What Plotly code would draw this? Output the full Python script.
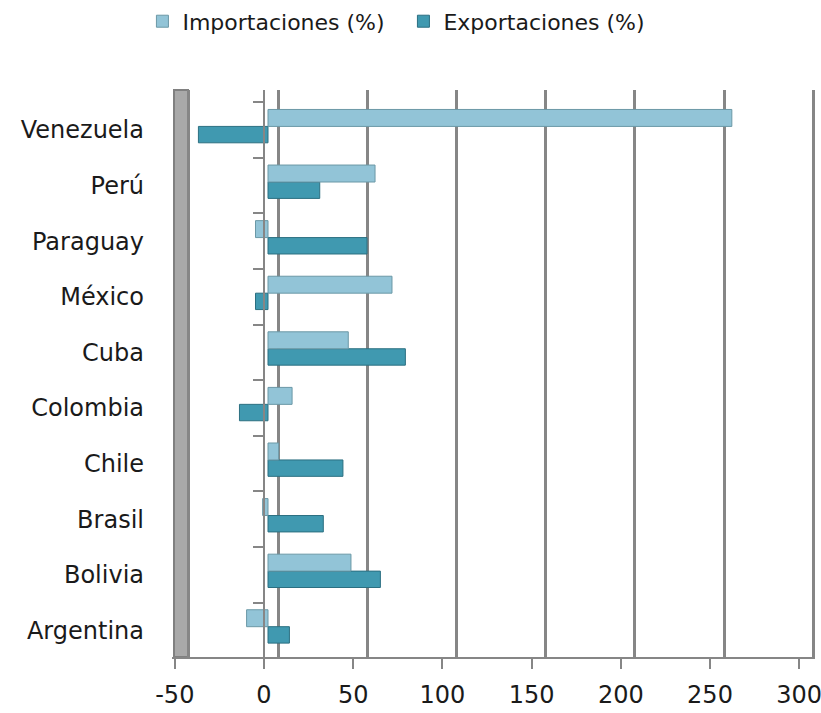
import plotly.graph_objects as go

countries = ["Argentina", "Bolivia", "Brasil", "Chile", "Colombia",
             "Cuba", "México", "Paraguay", "Perú", "Venezuela"]
importaciones = [-12, 46.5, -3, 6, 13.5, 45, 69.5, -7, 60, 260]
exportaciones = [12, 63, 31, 42, -16, 77, -7, 55.5, 29, -39]
x_ticks = [-50, 0, 50, 100, 150, 200, 250, 300]
x_ticktext = [str(v) for v in x_ticks]

FONT = "DejaVu Sans"
GRID = "#868686"

fig = go.Figure()
fig.add_trace(go.Bar(
    y=countries, x=exportaciones, orientation="h", name="Exportaciones (%)",
    marker=dict(color="#4099b0", line=dict(color="#2b6f81", width=1)),
    offset=-0.23, width=0.295,
    legendrank=2, xaxis="x", yaxis="y"))
fig.add_trace(go.Bar(
    y=countries, x=importaciones, orientation="h", name="Importaciones (%)",
    marker=dict(color="#92c4d7", line=dict(color="#6b98a6", width=1)),
    offset=0.065, width=0.305,
    legendrank=1, xaxis="x", yaxis="y"))
# invisible helpers so the overlay axes get drawn
fig.add_trace(go.Scatter(
    y=countries, x=[0] * len(countries), mode="markers",
    marker=dict(opacity=0), showlegend=False, hoverinfo="skip",
    xaxis="x", yaxis="y2"))
for ax in ("x2", "x3"):
    fig.add_trace(go.Scatter(
        x=[x_ticks[0], x_ticks[-1]], y=[countries[0], countries[0]],
        mode="markers", marker=dict(opacity=0), showlegend=False,
        hoverinfo="skip", xaxis=ax, yaxis="y"))

L, R = 172, 815
s = 89.2 / 50.0
def rng(zero_px):
    return [(L - zero_px) / s, (R - zero_px) / s]

fig.update_layout(
    width=821, height=713,
    margin=dict(l=L, r=821 - R, t=90, b=56, autoexpand=False),
    paper_bgcolor="white", plot_bgcolor="white",
    barmode="group",
    font=dict(family=FONT, size=24, color="#1a1a1a"),
    showlegend=True,
    legend=dict(orientation="h", x=-0.046, xanchor="left", y=1.158, yanchor="top",
                font=dict(family=FONT, size=22, color="#1a1a1a"),
                itemwidth=30, entrywidth=216, entrywidthmode="pixels",
                tracegroupgap=0, bgcolor="rgba(0,0,0,0)"),
    xaxis=dict(range=rng(268), showgrid=False, zeroline=False,
               showticklabels=False, ticks="", showline=False),
    xaxis2=dict(range=rng(264), overlaying="x", anchor="y", side="bottom",
                tickvals=x_ticks, ticktext=x_ticktext,
                ticks="outside", ticklen=10, tickwidth=2,
                tickcolor=GRID, showline=True, linecolor=GRID, linewidth=2,
                showgrid=False, zeroline=False, ticklabelstandoff=5,
                ticklabeloverflow="allow",
                tickfont=dict(family=FONT, size=24, color="#1a1a1a")),
    xaxis3=dict(range=rng(278), overlaying="x", anchor="y",
                tickvals=x_ticks, showgrid=True, gridcolor=GRID, gridwidth=2.5,
                showticklabels=False, ticks="", zeroline=False, showline=False),
    yaxis=dict(type="category", categoryarray=countries, range=[-0.48, 9.72],
               showgrid=False, zeroline=False, showline=False, ticks="",
               ticklabelstandoff=27,
               tickfont=dict(family=FONT, size=24, color="#1a1a1a")),
    yaxis2=dict(type="category", categoryarray=countries, matches="y",
                overlaying="y", anchor="free", position=(264 - L) / (R - L),
                showline=True, linecolor=GRID, linewidth=2,
                ticks="outside", tickson="boundaries", ticklen=10,
                tickwidth=2, tickcolor=GRID, showticklabels=False,
                showgrid=False, zeroline=False),
)

# left "wall" of the 3D chart
fig.add_shape(type="rect", xref="paper", yref="paper",
              x0=(174 - L) / (R - L), x1=(188 - L) / (R - L), y0=0.0, y1=1.0,
              fillcolor="#a9a9a9", line=dict(color="#808080", width=2),
              layer="below")

fig.write_html("out.html", config={"displayModeBar": False},
               post_script="document.body.style.margin='0px';")
